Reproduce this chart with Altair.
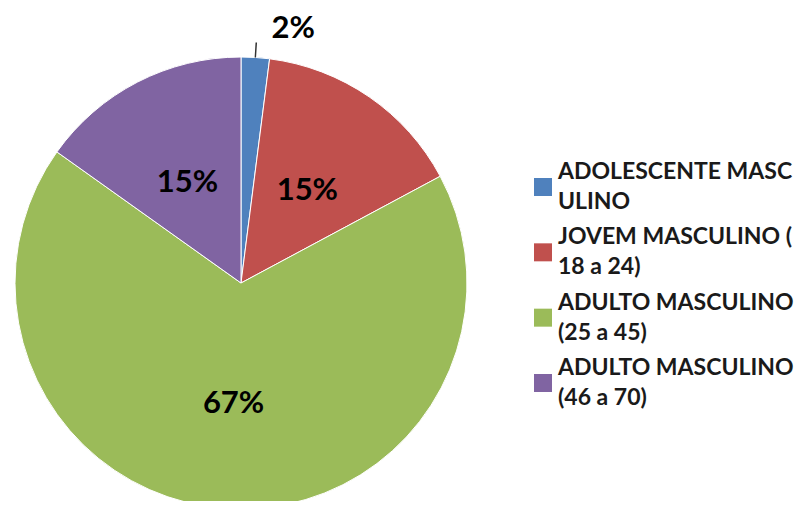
import altair as alt
import pandas as pd

NB = "\u00a0"
categories = ["ADOLESCENTE MASC|ULINO", "JOVEM MASCULINO (|18 a 24)",
              "ADULTO MASCULINO|" + NB + "(25 a 45)", "ADULTO MASCULINO|" + NB + "(46 a 70)"]
values = [2, 15, 67, 15]
pct_labels = ["2%", "15%", "67%", "15%"]
colors = ["#4F81BD", "#C0504D", "#9BBB59", "#8064A2"]

df = pd.DataFrame({"cat": categories, "value": values, "label": pct_labels,
                   "idx": list(range(len(values)))})
total = sum(values)
theta_scale = alt.Scale(domain=[0, total])
color_scale = alt.Scale(domain=categories, range=colors)
cx, cy = 233, 275
R = 226
FONT = "Lato"

pie = alt.Chart(df).mark_arc(outerRadius=R, stroke="white", strokeWidth=1).encode(
    theta=alt.Theta("value:Q", stack=True, scale=theta_scale),
    color=alt.Color("cat:N", scale=color_scale, legend=None),
    order=alt.Order("idx:Q"),
    x=alt.value(cx), y=alt.value(cy),
)

base = alt.Chart(df).transform_window(
    cum="sum(value)", sort=[alt.SortField("idx")], frame=[None, 0]
).transform_calculate(mid="datum.cum - datum.value/2")

inner = base.transform_filter("datum.value >= 5").mark_text(
    radius=117, dy=4, font=FONT, fontSize=31, fontWeight="bold", color="black"
).encode(
    theta=alt.Theta("mid:Q", stack=None, scale=theta_scale),
    text="label:N", x=alt.value(cx), y=alt.value(cy),
)

outer = base.transform_filter("datum.value < 5").mark_text(
    radius=255, dx=36, font=FONT, fontSize=31, fontWeight="bold", color="black"
).encode(
    theta=alt.Theta("mid:Q", stack=None, scale=theta_scale),
    text="label:N", x=alt.value(cx), y=alt.value(cy),
)

leader = base.transform_filter("datum.value < 5").transform_calculate(
    t1="datum.mid - 0.05", t2="datum.mid + 0.05"
).mark_arc(innerRadius=R, outerRadius=R + 15, color="#333333").encode(
    theta=alt.Theta("t1:Q", stack=None, scale=theta_scale),
    theta2="t2:Q", x=alt.value(cx), y=alt.value(cy),
)

# legend drawn as layers on a point scale
leg_y = alt.Y("cat:N", scale=alt.Scale(type="point", domain=categories, range=[179, 375], padding=0),
              axis=None)

swatches = alt.Chart(df).mark_square(size=324, opacity=1, filled=True).encode(
    x=alt.value(535), y=leg_y,
    color=alt.Color("cat:N", scale=color_scale, legend=None),
)

leg_text = alt.Chart(df).transform_calculate(
    lines="split(datum.cat, '|')"
).mark_text(align="left", baseline="middle", lineHeight=30, dy=-15, font=FONT,
            fontSize=23, fontWeight="bold", color="#1a1a1a").encode(
    x=alt.value(550), y=leg_y, text="lines:N",
)

chart = alt.layer(pie, leader, inner, outer, swatches, leg_text).properties(
    width=786, height=493, padding=0, autosize=alt.AutoSizeParams(type="none"),
    background="white",
).configure(view=alt.ViewConfig(stroke=None))

chart.save("out.html", embed_options={"renderer": "svg", "actions": False})
